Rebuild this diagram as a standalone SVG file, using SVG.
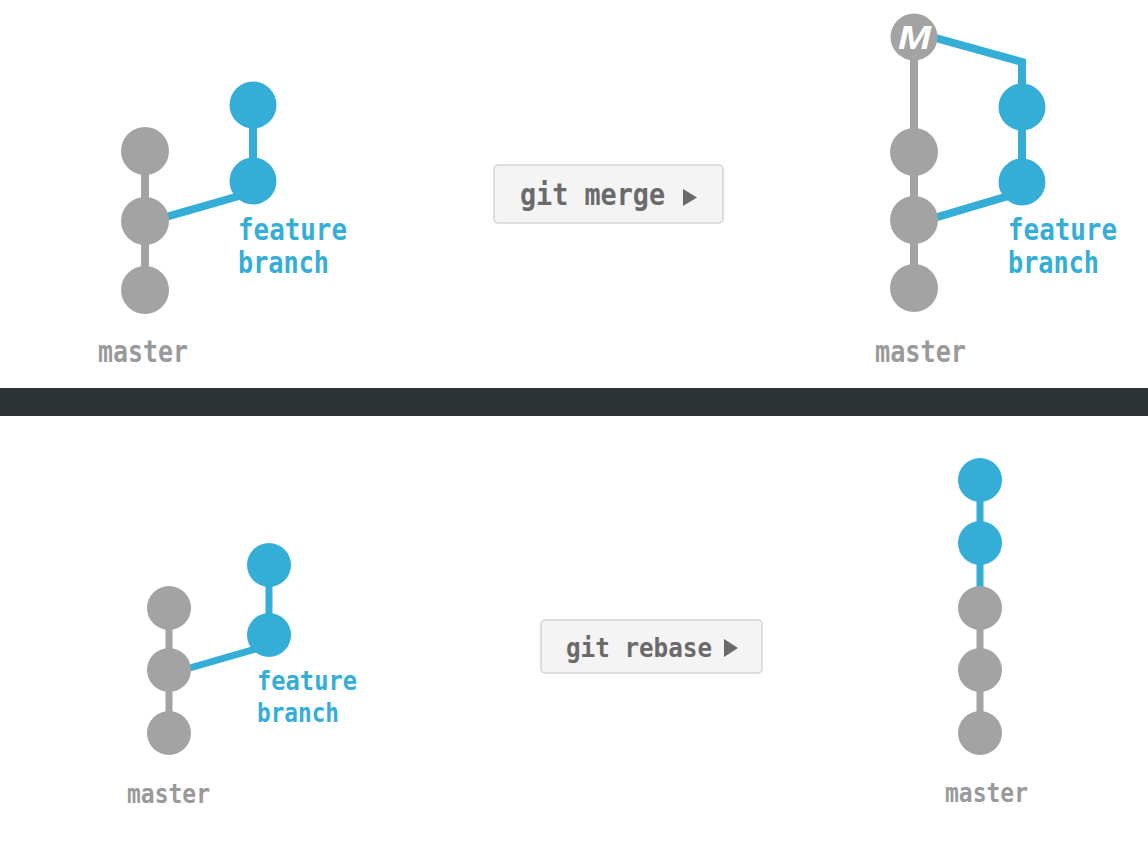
<svg xmlns="http://www.w3.org/2000/svg" width="1148" height="847" viewBox="0 0 1148 847">
  <style>
    .g { fill: #a3a3a3; }
    .b { fill: #34aed6; }
    .gl { stroke: #a3a3a3; stroke-width: 8; fill: none; }
    .bl { stroke: #34aed6; stroke-width: 8; fill: none; }
    .gl2 { stroke: #a3a3a3; stroke-width: 7; fill: none; }
    .bl2 { stroke: #34aed6; stroke-width: 7; fill: none; }
    .mono { font-family: "DejaVu Sans Mono", "Liberation Mono", monospace; font-weight: bold; }
    .master { fill: #9a9a9a; }
    .feat { fill: #34aed6; }
    .btn { fill: #f4f4f4; stroke: #d4d4d4; stroke-width: 1.5; }
    .btntext { fill: #6a6a6a; }
  </style>
  <rect x="0" y="0" width="1148" height="847" fill="#ffffff"/>
  <rect id="divider" x="0" y="388" width="1148" height="28" fill="#2e3436"/>

  <g id="connectors">
    <line class="gl" x1="145" y1="151" x2="145" y2="290"/>
    <line class="bl" x1="253" y1="105" x2="253" y2="181"/>
    <line class="bl" x1="145" y1="223" x2="253" y2="192"/>
    <line class="gl" x1="914" y1="37" x2="914" y2="288"/>
    <polyline class="bl" points="914,32 1022,62 1022,182"/>
    <line class="bl" x1="914" y1="224" x2="1022" y2="192"/>
    <line class="gl2" x1="169" y1="608" x2="169" y2="733"/>
    <line class="bl2" x1="269" y1="565" x2="269" y2="635"/>
    <line class="bl2" x1="169" y1="674" x2="269" y2="645"/>
    <line class="bl2" x1="980" y1="480" x2="980" y2="590"/>
    <line class="gl2" x1="980" y1="590" x2="980" y2="733"/>
  </g>

  <g id="merge-before">
    <circle class="g" cx="145" cy="151" r="24"/>
    <circle class="g" cx="145" cy="221" r="24"/>
    <circle class="g" cx="145" cy="290" r="24"/>
    <circle class="b" cx="253" cy="105" r="23.5"/>
    <circle class="b" cx="253" cy="181" r="23.5"/>
    <text class="mono feat" x="238" y="240" font-size="30" textLength="109" lengthAdjust="spacingAndGlyphs">feature</text>
    <text class="mono feat" x="238" y="273" font-size="30" textLength="91" lengthAdjust="spacingAndGlyphs">branch</text>
    <text class="mono master" x="98" y="362" font-size="30" textLength="90" lengthAdjust="spacingAndGlyphs">master</text>
  </g>

  <g id="merge-button">
    <rect class="btn" x="494" y="165" width="229" height="58" rx="4"/>
    <text class="mono btntext" x="520" y="205" font-size="31" textLength="145" lengthAdjust="spacingAndGlyphs">git merge</text>
    <polygon points="683,189 697,197.5 683,206" fill="#6a6a6a"/>
  </g>

  <g id="merge-after">
    <circle class="g" cx="914" cy="37" r="23.5"/>
    <text x="898" y="49" font-family="Liberation Sans, Arial, sans-serif" font-weight="bold" font-style="italic" font-size="33" fill="#ffffff" textLength="33" lengthAdjust="spacingAndGlyphs">M</text>
    <circle class="g" cx="914" cy="152" r="24"/>
    <circle class="g" cx="914" cy="220" r="24"/>
    <circle class="g" cx="914" cy="288" r="24"/>
    <circle class="b" cx="1022" cy="107" r="23.5"/>
    <circle class="b" cx="1022" cy="182" r="23.5"/>
    <text class="mono feat" x="1008" y="240" font-size="30" textLength="109" lengthAdjust="spacingAndGlyphs">feature</text>
    <text class="mono feat" x="1008" y="273" font-size="30" textLength="91" lengthAdjust="spacingAndGlyphs">branch</text>
    <text class="mono master" x="875" y="362" font-size="30" textLength="91" lengthAdjust="spacingAndGlyphs">master</text>
  </g>

  <g id="rebase-before">
    <circle class="g" cx="169" cy="608" r="22"/>
    <circle class="g" cx="169" cy="670" r="22"/>
    <circle class="g" cx="169" cy="733" r="22"/>
    <circle class="b" cx="269" cy="565" r="22"/>
    <circle class="b" cx="269" cy="635" r="22"/>
    <text class="mono feat" x="257" y="690" font-size="27" textLength="100" lengthAdjust="spacingAndGlyphs">feature</text>
    <text class="mono feat" x="257" y="722" font-size="27" textLength="82" lengthAdjust="spacingAndGlyphs">branch</text>
    <text class="mono master" x="127" y="803" font-size="27" textLength="83" lengthAdjust="spacingAndGlyphs">master</text>
  </g>

  <g id="rebase-button">
    <rect class="btn" x="541" y="620" width="221" height="53" rx="4"/>
    <text class="mono btntext" x="566" y="657" font-size="27" textLength="146" lengthAdjust="spacingAndGlyphs">git rebase</text>
    <polygon points="724,639 738,648 724,657" fill="#6a6a6a"/>
  </g>

  <g id="rebase-after">
    <circle class="b" cx="980" cy="480" r="22"/>
    <circle class="b" cx="980" cy="543" r="22"/>
    <circle class="g" cx="980" cy="608" r="22"/>
    <circle class="g" cx="980" cy="670" r="22"/>
    <circle class="g" cx="980" cy="733" r="22"/>
    <text class="mono master" x="945" y="802" font-size="27" textLength="83" lengthAdjust="spacingAndGlyphs">master</text>
  </g>
</svg>
